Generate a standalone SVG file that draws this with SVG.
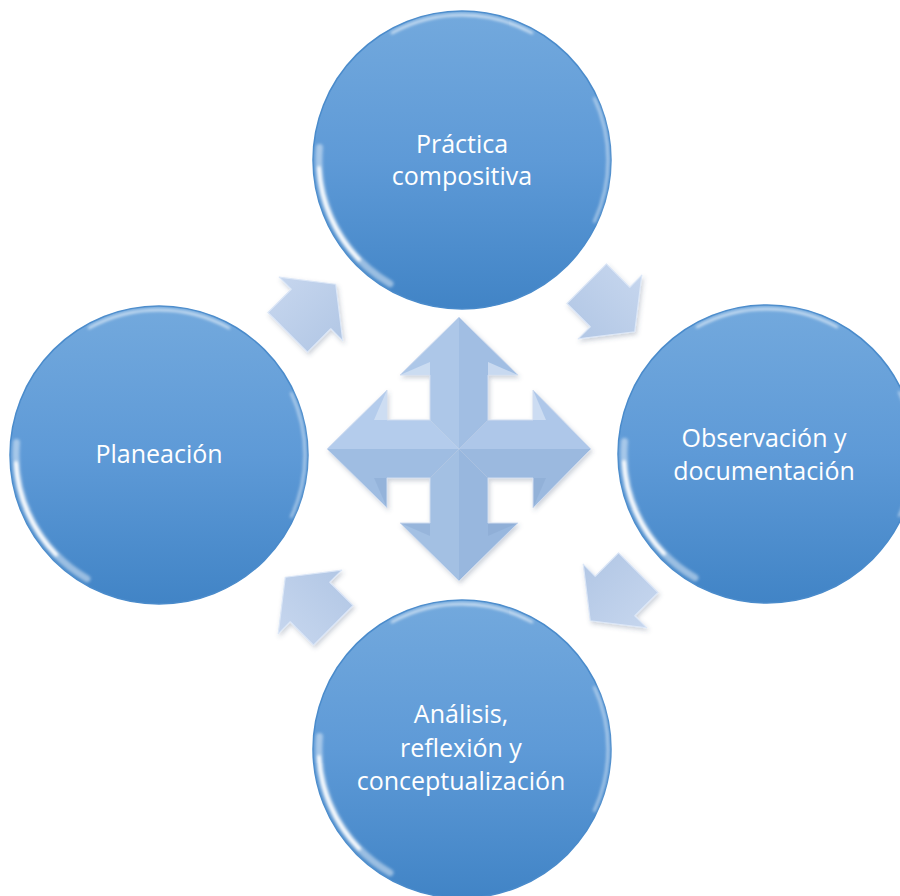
<svg xmlns="http://www.w3.org/2000/svg" xmlns:xlink="http://www.w3.org/1999/xlink" width="900" height="896" viewBox="0 0 900 896">
  <style>
    .lbl { font-family: "Open Sans", "Noto Sans", "DejaVu Sans", sans-serif; font-size: 25px; fill: #ffffff; text-anchor: middle; }
    .rim { fill: none; stroke: #ffffff; stroke-linecap: round; }
    .sarrow { fill: url(#smallFill); stroke: #dce7f7; stroke-width: 1.2; stroke-linejoin: round; }
  </style>
  <defs>
    <linearGradient id="bubbleFill" x1="0" y1="0" x2="0" y2="1">
      <stop offset="0" stop-color="#73a9dd"/>
      <stop offset="0.5" stop-color="#5e9ad7"/>
      <stop offset="1" stop-color="#4184c6"/>
    </linearGradient>
    <linearGradient id="smallFill" x1="0" y1="0" x2="0" y2="1">
      <stop offset="0" stop-color="#c6d6ee"/>
      <stop offset="1" stop-color="#b2c7e5"/>
    </linearGradient>
    <filter id="soft" x="-20%" y="-20%" width="140%" height="140%">
      <feGaussianBlur stdDeviation="1.6"/>
    </filter>
    <filter id="shadow" x="-20%" y="-20%" width="140%" height="140%">
      <feDropShadow dx="1.5" dy="2.5" stdDeviation="2" flood-color="#405070" flood-opacity="0.25"/>
    </filter>
    <g id="bubble">
      <circle r="149" fill="url(#bubbleFill)" stroke="#4a8bcb" stroke-width="1.5"/>
      <g filter="url(#soft)">
        <path class="rim" d="M -72 123.7 A 143 143 0 0 1 -142.5 -12.5" stroke-width="7" stroke-opacity="0.45"/>
        <path class="rim" d="M -103 99.5 A 143 143 0 0 1 -143 8" stroke-width="4" stroke-opacity="0.95"/>
        <path class="rim" d="M -70 -127 A 145 145 0 0 1 70 -127" stroke-width="2.5" stroke-opacity="0.7"/>
        <path class="rim" d="M 132.3 -61.7 A 146 146 0 0 1 132.3 61.7" stroke-width="2.5" stroke-opacity="0.55"/>
      </g>
    </g>
    <polygon id="smallArrow" class="sarrow" points="-33,-28 0,-28 0,-45 35,0 0,45 0,28 -33,28"/>
  </defs>

  <rect width="900" height="896" fill="#ffffff"/>

  <g id="connectors">
    <g id="arrow-top-left" filter="url(#shadow)">
      <use xlink:href="#smallArrow" href="#smallArrow" transform="translate(311,309) rotate(-45)"/>
    </g>
    <g id="arrow-top-right" filter="url(#shadow)">
      <use xlink:href="#smallArrow" href="#smallArrow" transform="translate(610,307) rotate(45)"/>
    </g>
    <g id="arrow-bottom-right" filter="url(#shadow)">
      <use xlink:href="#smallArrow" href="#smallArrow" transform="translate(615,596) rotate(135)"/>
    </g>
    <g id="arrow-bottom-left" filter="url(#shadow)">
      <use xlink:href="#smallArrow" href="#smallArrow" transform="translate(310,602) rotate(-135)"/>
    </g>

    <g id="center-cross" filter="url(#shadow)">
      <polygon points="459,317 400,375 430,375 430,420 459,449" fill="#adc7e8"/>
      <polygon points="459,317 518,375 488,375 488,420 459,449" fill="#a1bee3"/>
      <polygon points="327,449 387,390 387,420 430,420 459,449" fill="#b4ccec"/>
      <polygon points="327,449 387,508 387,478 430,478 459,449" fill="#9fbde2"/>
      <polygon points="591,449 533,390 533,420 488,420 459,449" fill="#aec7e9"/>
      <polygon points="591,449 533,508 533,478 488,478 459,449" fill="#9bb9df"/>
      <polygon points="459,581 400,523 430,523 430,478 459,449" fill="#a3c0e3"/>
      <polygon points="459,581 518,523 488,523 488,478 459,449" fill="#98b7de"/>
      <g fill="#d6e3f5" opacity="0.75">
        <polygon points="400,375 430,375 430,362"/>
        <polygon points="518,375 488,375 488,362"/>
        <polygon points="387,390 387,420 374,420"/>
        <polygon points="533,390 533,420 546,420"/>
      </g>
      <g fill="#7e9fca" opacity="0.3">
        <polygon points="387,508 387,478 374,478"/>
        <polygon points="533,508 533,478 546,478"/>
        <polygon points="400,523 430,523 430,536"/>
        <polygon points="518,523 488,523 488,536"/>
      </g>
      <polygon points="459,317 518,375 488,375 488,420 533,420 533,390 591,449 533,508 533,478 488,478 488,523 518,523 459,581 400,523 430,523 430,478 387,478 387,508 327,449 387,390 387,420 430,420 430,375 400,375" fill="none" stroke="#cfdcf0" stroke-width="1" stroke-linejoin="round"/>
    </g>
  </g>

  <g id="node-practica">
    <use xlink:href="#bubble" href="#bubble" transform="translate(462,160)"/>
    <text class="lbl" x="462" y="153">Práctica</text>
    <text class="lbl" x="462" y="185">compositiva</text>
  </g>

  <g id="node-observacion">
    <use xlink:href="#bubble" href="#bubble" transform="translate(767,454)"/>
    <text class="lbl" x="764" y="447">Observación y</text>
    <text class="lbl" x="764" y="480">documentación</text>
  </g>

  <g id="node-analisis">
    <use xlink:href="#bubble" href="#bubble" transform="translate(462,749)"/>
    <text class="lbl" x="461" y="723">Análisis,</text>
    <text class="lbl" x="461" y="757">reflexión y</text>
    <text class="lbl" x="461" y="790">conceptualización</text>
  </g>

  <g id="node-planeacion">
    <use xlink:href="#bubble" href="#bubble" transform="translate(159,455)"/>
    <text class="lbl" x="159" y="463">Planeación</text>
  </g>
</svg>
